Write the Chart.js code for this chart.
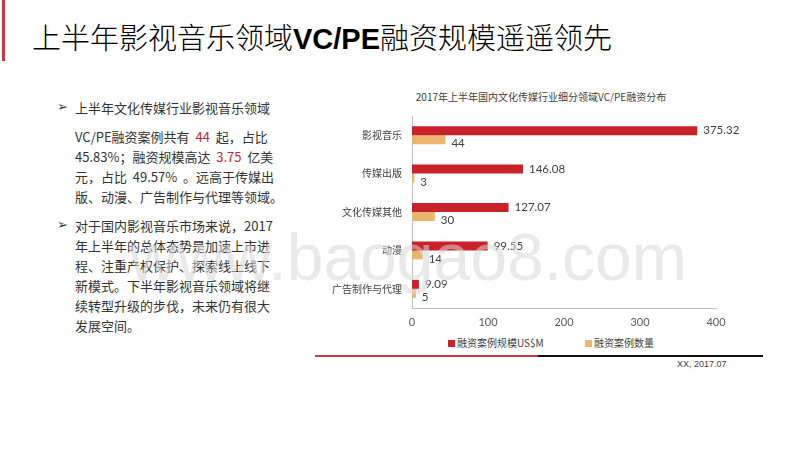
<!DOCTYPE html>
<html>
<head>
<meta charset="utf-8">
<script src="https://cdn.jsdelivr.net/npm/chart.js@4/dist/chart.umd.min.js"></script>
<style>
  body { margin: 0; width: 800px; height: 450px; background: #fff; position: relative; overflow: hidden;
         font-family: 'Noto Sans CJK SC', sans-serif; color: #262626; }
  .abs { position: absolute; }
  #bar { left: 2px; top: 0; width: 3px; height: 61px; background: #d1343c; }
  #title { left: 32px; top: 15px; font-size: 29px; line-height: 42px; color: #000; white-space: nowrap; font-weight: 300; }
  #title b { font-family: 'Liberation Sans', sans-serif; font-weight: bold; }
  .txt { left: 75px; font-size: 13px; line-height: 20px; white-space: nowrap; color: #333; }
  .bul { position: absolute; left: -18px; top: -1px; font-size: 13px; font-family: 'DejaVu Sans', sans-serif; }
  .hl { color: #c8262e; }
  #chartTitle { left: 340px; width: 402px; top: 90px; text-align: center; font-size: 10px; line-height: 14px; color: #404040; }
  #chartBox { left: 320px; top: 84px; width: 442px; height: 248px; }
  #legend { left: 448px; top: 335px; font-size: 10px; line-height: 16px; color: #404040; white-space: nowrap; }
  #legend span.item { position: absolute; top: 0; }
  #legend i { display: inline-block; width: 7px; height: 7px; margin-right: 2px; vertical-align: 0px; }
  #lineRed { left: 315px; top: 355px; width: 223px; height: 2px; background: #d1343c; }
  #lineBlack { left: 538px; top: 355px; width: 225px; height: 2px; background: #111; }
  #src { left: 677px; top: 358px; font-size: 9px; line-height: 12px; color: #404040; font-family: 'Liberation Sans', sans-serif; }
  #wm { left: 129px; top: 214px; font-size: 66px; line-height: 86px; font-family: 'Liberation Sans', sans-serif;
        color: rgba(215,215,215,0.55); white-space: nowrap; pointer-events: none; z-index: 10; }
</style>
</head>
<body>
<div id="bar" class="abs"></div>
<div id="title" class="abs">上半年影视音乐领域<b>VC/PE</b>融资规模遥遥领先</div>

<div class="abs txt" style="top:98px"><span class="bul">➢</span>上半年文化传媒行业影视音乐领域</div>
<div class="abs txt" style="top:127px">
  VC/PE融资案例共有&nbsp;&nbsp;<span class="hl">44</span>&nbsp;&nbsp;起，占比<br>
  45.83%；融资规模高达&nbsp;&nbsp;<span class="hl">3.75</span>&nbsp;&nbsp;亿美<br>
  元，占比&nbsp;&nbsp;49.57%&nbsp;&nbsp;。远高于传媒出<br>
  版、动漫、广告制作与代理等领域。
</div>
<div class="abs txt" style="top:216px"><span class="bul">➢</span>对于国内影视音乐市场来说，2017<br>
  年上半年的总体态势是加速上市进<br>
  程、注重产权保护、探索线上线下<br>
  新模式。下半年影视音乐领域将继<br>
  续转型升级的步伐，未来仍有很大<br>
  发展空间。
</div>

<div id="chartTitle" class="abs"></div>
<div id="chartBox" class="abs"><canvas id="fundChart" width="442" height="248"></canvas></div>
<div id="legend" class="abs"></div>
<div id="lineRed" class="abs"></div>
<div id="lineBlack" class="abs"></div>
<div id="src" class="abs">XX, 2017.07</div>
<div id="wm" class="abs">www.baogao8.com</div>

<script>
const chartTitle = '2017年上半年国内文化传媒行业细分领域VC/PE融资分布';
const categories = ['影视音乐', '传媒出版', '文化传媒其他', '动漫', '广告制作与代理'];
const seriesNames = ['融资案例规模US$M', '融资案例数量'];
const scaleValues = [375.32, 146.08, 127.07, 99.55, 9.09];
const caseCounts = [44, 3, 30, 14, 5];
const seriesColors = ['#c9222b', '#eab56e'];
const xTicks = [0, 100, 200, 300, 400];

// etiquetas de valor ao lado das barras
const valueLabels = {
    id: 'valueLabels',
    afterDatasetsDraw(chart) {
        const c = chart.ctx;
        c.save();
        c.font = '11.5px Lato, "Noto Sans CJK SC", sans-serif';
        c.fillStyle = '#404040';
        c.textBaseline = 'middle';
        c.textAlign = 'left';
        chart.data.datasets.forEach((ds, i) => {
            const meta = chart.getDatasetMeta(i);
            meta.data.forEach((bar, j) => {
                const dy = i === 1 ? 4 : 0;
                c.fillText(String(ds.data[j]), bar.x + 6, bar.y + dy);
            });
        });
        c.restore();
    }
};

document.getElementById('chartTitle').textContent = chartTitle;

const ctx = document.getElementById('fundChart').getContext('2d');
const myChart = new Chart(ctx, {
    type: 'bar',
    data: {
        labels: categories,
        datasets: [
            { label: seriesNames[0], data: scaleValues, backgroundColor: seriesColors[0] },
            { label: seriesNames[1], data: caseCounts, backgroundColor: seriesColors[1] }
        ]
    },
    options: {
        indexAxis: 'y',
        responsive: false,
        animation: false,
        layout: { padding: { right: 46, left: 0, top: 32, bottom: 0 } },
        datasets: { bar: { barPercentage: 1, categoryPercentage: 0.47 } },
        plugins: {
            legend: { display: false },
            tooltip: { enabled: false },
            title: { display: false }
        },
        scales: {
            x: {
                min: 0,
                max: 400,
                afterBuildTicks: s => { s.ticks = xTicks.map(v => ({ value: v })); },
                afterFit: s => { s.height = 24; },
                ticks: { color: '#595959', padding: 8, font: { size: 11, family: 'Lato, sans-serif' } },
                grid: { display: false, drawTicks: false },
                border: { display: true, color: '#bfbfbf' }
            },
            y: {
                afterFit: s => { s.width = 92; },
                ticks: { color: '#404040', padding: 10, font: { size: 10, family: '"Noto Sans CJK SC", sans-serif' } },
                grid: { display: false, drawTicks: false },
                border: { display: true, color: '#bfbfbf' }
            }
        }
    },
    plugins: [valueLabels]
});

function createLegend(names, colors) {
    const legend = document.getElementById('legend');
    legend.innerHTML = '';
    const offsets = [0, 137];
    names.forEach((name, index) => {
        const item = document.createElement('span');
        item.className = 'item';
        item.style.left = offsets[index] + 'px';
        item.innerHTML = `<i style="background:${colors[index]}"></i>${name}`;
        legend.appendChild(item);
    });
}

createLegend(seriesNames, seriesColors);
</script>
</body>
</html>
